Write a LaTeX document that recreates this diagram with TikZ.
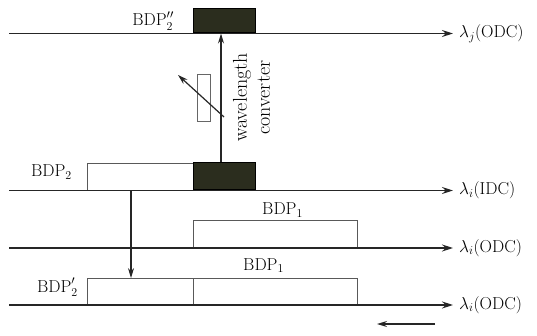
\documentclass[tikz,border=0pt]{standalone}
\usetikzlibrary{arrows.meta}
\definecolor{dk}{HTML}{2B2D1E}
\begin{document}
\begin{tikzpicture}[x=1pt,y=-1pt,
  txt/.style={font=\fontsize{18}{20}\selectfont, inner sep=0pt},
  lab/.style={font=\fontsize{18}{20}\selectfont, anchor=west, inner xsep=6pt, inner ysep=0pt},
  wire/.style={draw=black!85, line width=1.3pt},
  arr/.style={wire, -{Stealth[length=11pt,width=7pt]}},
  sarr/.style={draw=black!85, line width=1.2pt, -{Stealth[length=10pt,width=6pt]}},
  wbox/.style={draw=black!65, line width=0.9pt, fill=white, inner sep=0pt, anchor=south west, minimum height=27pt},
  bbox/.style={draw=black, line width=1pt, fill=dk, inner sep=0pt, anchor=south west, minimum width=62pt, minimum height=26pt},
]
\useasboundingbox (0,0) rectangle (537,336);

% line start points
\coordinate (s1) at (9,33.5);
\coordinate (s2) at (9,190.5);
\coordinate (s3) at (9,248);
\coordinate (s4) at (9,305);

% right labels
\node[lab] (l1) at (453,33.5) {$\lambda_j(\mathrm{ODC})$};
\node[lab] (l2) at (453,190.5) {$\lambda_i(\mathrm{IDC})$};
\node[lab] (l3) at (453,248) {$\lambda_i(\mathrm{ODC})$};
\node[lab] (l4) at (453,305) {$\lambda_i(\mathrm{ODC})$};

% boxes
\node[bbox, minimum height=24.5pt] (bk1) at (193,33.5) {};
\node[wbox, minimum width=106pt] (b2) at (87,190.5) {};
\node[bbox, minimum height=27pt] (bk2) at (193,190.5) {};
\node[wbox, minimum width=164pt] (b1a) at (193,248) {};
\node[wbox, minimum width=106pt, minimum height=26pt] (b2p) at (87,305) {};
\node[wbox, minimum width=164pt, minimum height=26pt] (b1b) at (193,305) {};

% main lines
\draw[arr] (s1) -- (l1.west);
\draw[arr] (s2) -- (l2.west);
\draw[arr] (s3) -- (l3.west);
\draw[arr] (s4) -- (l4.west);

% box labels
\node[txt, anchor=base east] (t1) at (174,26) {$\mathrm{BDP}''_2$};
\node[txt, anchor=base east] (t2) at (72,177) {$\mathrm{BDP}_2$};
\node[txt, anchor=base west] (t3) at (262,215) {$\mathrm{BDP}_1$};
\node[txt, anchor=base east] (t4) at (78,292) {$\mathrm{BDP}'_2$};
\node[txt, anchor=base west] (t5) at (243,270) {$\mathrm{BDP}_1$};

% wavelength converter
\coordinate (vx) at (221,0);
\draw[sarr] (bk2.north -| vx) -- (bk1.south -| vx);
\node[draw=black!60, line width=0.8pt, minimum width=13pt, minimum height=47pt, inner sep=0pt] (flt) at (203.5,97.5) {};
\coordinate (d1) at (224,117);
\coordinate (d2) at (178,75);
\draw[sarr] (d1) -- (d2);
\node[font=\fontsize{20}{23}\selectfont, rotate=90, align=center, inner sep=0pt] (wc) at (251.5,97.5) {wavelength\\converter};

% BDP2 shifted down
\coordinate (dx) at (131,0);
\draw[sarr] (s2 -| dx) -- (b2p.north -| dx);

% bottom arrow
\coordinate (ba1) at (435,324);
\coordinate (ba2) at (377,324);
\draw[sarr] (ba1) -- (ba2);
\end{tikzpicture}
\end{document}
